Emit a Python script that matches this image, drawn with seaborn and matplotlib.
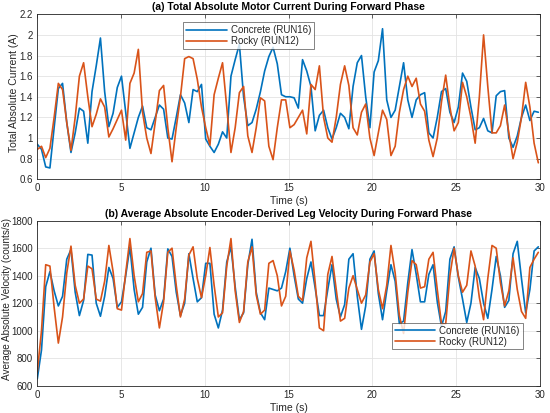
import numpy as np
import pandas as pd
import matplotlib
matplotlib.use("Agg")
import matplotlib.pyplot as plt
import seaborn as sns
from matplotlib.ticker import FixedLocator, FixedFormatter

# ---------------- data ----------------
n_samples = 120
time_s = np.linspace(0, 29.9, n_samples)

series_names = ["Concrete (RUN16)", "Rocky (RUN12)"]
series_colors = ["#0072BD", "#D95319"]

current_concrete = [
    0.94, 0.89, 0.72, 0.71, 1.10, 1.48, 1.53, 1.15, 0.86, 1.05,
    1.29, 1.26, 0.95, 1.45, 1.70, 1.97, 1.45, 1.11, 1.24, 1.49,
    1.60, 1.25, 0.90, 1.05, 1.20, 1.31, 1.10, 1.08, 1.20, 1.32,
    1.28, 1.00, 0.99, 1.20, 1.42, 1.34, 1.15, 1.47, 1.45, 1.52,
    0.99, 0.92, 0.86, 0.94, 1.06, 1.00, 1.60, 1.76, 1.91, 1.40,
    1.12, 1.15, 1.28, 1.45, 1.65, 1.79, 1.88, 1.72, 1.42, 1.40,
    1.40, 1.39, 1.29, 1.76, 1.65, 1.50, 1.07, 1.22, 1.27, 1.10,
    0.99, 1.10, 1.24, 1.20, 1.09, 1.50, 1.73, 1.80, 1.40, 1.10,
    1.64, 1.75, 2.06, 1.37, 1.20, 1.27, 1.50, 1.73, 1.37, 1.20,
    1.37, 1.42, 1.44, 1.05, 1.00, 1.20, 1.45, 1.48, 1.25, 1.15,
    1.30, 1.63, 1.55, 1.30, 1.08, 1.10, 1.19, 1.07, 1.05, 1.41,
    1.45, 1.46, 1.00, 0.91, 1.02, 1.20, 1.32, 1.17, 1.26, 1.25,
]
current_rocky = [
    0.89, 0.92, 0.81, 0.90, 1.20, 1.53, 1.47, 1.15, 0.88, 1.20,
    1.60, 1.73, 1.40, 1.11, 1.23, 1.38, 1.30, 1.01, 1.09, 1.18,
    1.27, 0.98, 1.53, 1.63, 1.86, 1.25, 1.00, 0.85, 1.15, 1.46,
    1.51, 1.10, 0.77, 1.10, 1.40, 1.77, 1.79, 1.77, 1.57, 1.30,
    1.10, 0.93, 1.42, 1.58, 1.73, 1.30, 0.86, 1.10, 1.44, 1.50,
    1.02, 0.86, 1.10, 1.39, 1.36, 0.92, 0.79, 1.10, 1.37, 1.37,
    1.10, 1.13, 1.20, 1.27, 1.04, 1.52, 1.47, 1.70, 1.20, 1.00,
    0.96, 1.20, 1.52, 1.70, 1.51, 1.10, 1.03, 1.25, 1.33, 1.00,
    0.83, 1.05, 1.27, 1.18, 0.83, 0.92, 1.25, 1.47, 1.60, 1.50,
    1.58, 1.33, 1.26, 0.98, 0.82, 1.00, 1.35, 1.61, 1.30, 1.07,
    1.15, 1.54, 1.40, 1.20, 0.95, 1.40, 2.00, 1.50, 1.05, 1.05,
    1.12, 1.32, 1.05, 0.80, 0.96, 1.20, 1.54, 1.30, 0.95, 0.76,
]

velocity_concrete = [
    650, 860, 1320, 1430, 1290, 1180, 1250, 1520, 1590, 1280,
    1110, 1220, 1555, 1550, 1200, 1105, 1250, 1460, 1380, 1170,
    1210, 1400, 1610, 1300, 1120, 1170, 1500, 1600, 1260, 1145,
    1230, 1595, 1540, 1280, 1110, 1200, 1560, 1380, 1210, 1240,
    1490, 1490, 1120, 1020, 1150, 1500, 1610, 1320, 1080, 1130,
    1480, 1665, 1280, 1130, 1080, 1310, 1300, 1290, 1310, 1430,
    1600, 1400, 1230, 1200, 1380, 1500, 1310, 1110, 1110, 1300,
    1480, 1230, 1100, 1190, 1520, 1560, 1250, 1010, 1180, 1520,
    1580, 1270, 1080, 1290, 1480, 1360, 1050, 1070, 1350, 1590,
    1410, 1210, 1210, 1410, 1480, 1210, 1030, 1140, 1520, 1610,
    1390, 1230, 1060, 1200, 1460, 1380, 1200, 1090, 1300, 1540,
    1400, 1170, 1220, 1560, 1650, 1380, 1130, 1300, 1580, 1610,
]
velocity_rocky = [
    700, 1000, 1480, 1470, 1170, 910, 1100, 1420, 1615, 1330,
    1200, 1230, 1470, 1450, 1230, 1215, 1360, 1620, 1430, 1160,
    1150, 1420, 1670, 1400, 1210, 1270, 1570, 1580, 1240, 1020,
    1210, 1570, 1600, 1330, 1100, 1230, 1550, 1610, 1380, 1240,
    1400, 1605, 1330, 1100, 1130, 1470, 1670, 1290, 1060, 1140,
    1500, 1610, 1260, 1120, 1150, 1490, 1510, 1400, 1180, 1250,
    1580, 1440, 1250, 1220, 1530, 1650, 1350, 1020, 1000, 1410,
    1540, 1300, 1070, 1090, 1310, 1400, 1300, 1200, 1260, 1500,
    1560, 1300, 1160, 1330, 1620, 1420, 1110, 980, 1280, 1510,
    1480, 1310, 1320, 1520, 1570, 1300, 1050, 1050, 1400, 1600,
    1400, 1280, 1330, 1580, 1470, 1240, 1080, 1380, 1620, 1600,
    1350, 1180, 1290, 1530, 1300, 1140, 1090, 1460, 1520, 1570,
]

x_ticks = [0, 5, 10, 15, 20, 25, 30]
x_tick_labels = ["0", "5", "10", "15", "20", "25", "30"]
cur_ticks = [0.6, 0.8, 1.0, 1.2, 1.4, 1.6, 1.8, 2.0, 2.2]
cur_tick_labels = ["0.6", "0.8", "1", "1.2", "1.4", "1.6", "1.8", "2", "2.2"]
vel_ticks = [600, 800, 1000, 1200, 1400, 1600, 1800]
vel_tick_labels = ["600", "800", "1000", "1200", "1400", "1600", "1800"]

title_a = "(a) Total Absolute Motor Current During Forward Phase"
title_b = "(b) Average Absolute Encoder-Derived Leg Velocity During Forward Phase"
ylabel_a = "Total Absolute Current (A)"
ylabel_b = "Average Absolute Velocity (counts/s)"
xlabel = "Time (s)"

# ---------------- style ----------------
sns.set_theme(style="white")
plt.rcParams["font.family"] = ["Liberation Sans", "DejaVu Sans"]
plt.rcParams["font.size"] = 7

def long_df(a, b):
    return pd.DataFrame({
        "t": np.concatenate([time_s, time_s]),
        "v": np.concatenate([a, b]),
        "s": [series_names[0]] * len(a) + [series_names[1]] * len(b),
    })

fig = plt.figure(figsize=(5.5, 4.13), dpi=100)
ax1 = fig.add_axes([0.0678, 0.5659, 0.914, 0.3995])
ax2 = fig.add_axes([0.0678, 0.0661, 0.914, 0.3995])

pal = dict(zip(series_names, series_colors))
sns.lineplot(data=long_df(current_concrete, current_rocky), x="t", y="v", hue="s",
             palette=pal, linewidth=1.2, ax=ax1, estimator=None, sort=False)
sns.lineplot(data=long_df(velocity_concrete, velocity_rocky), x="t", y="v", hue="s",
             palette=pal, linewidth=1.2, ax=ax2, estimator=None, sort=False)

def style(ax, yticks, ylabels, ylim, title, ylabel, ylab_size, ylab_x):
    ax.set_xlim(0, 30)
    ax.set_ylim(*ylim)
    ax.xaxis.set_major_locator(FixedLocator(x_ticks))
    ax.xaxis.set_major_formatter(FixedFormatter(x_tick_labels))
    ax.yaxis.set_major_locator(FixedLocator(yticks))
    ax.yaxis.set_major_formatter(FixedFormatter(ylabels))
    ax.grid(True, color="#e3e3e3", linewidth=0.6)
    ax.set_axisbelow(True)
    for sp in ax.spines.values():
        sp.set_color("#262626")
        sp.set_linewidth(0.6)
        sp.set_visible(True)
    ax.tick_params(direction="in", length=3, width=0.5, colors="#262626",
                   labelsize=7, top=True, right=True, pad=3,
                   labelcolor="#262626")
    ax.set_title(title, fontsize=7.5, fontweight="bold", color="#000000", pad=3)
    ax.set_xlabel(xlabel, fontsize=7.5, color="#262626", labelpad=2)
    ax.set_ylabel(ylabel, fontsize=ylab_size, color="#262626")
    ax.yaxis.set_label_coords(ylab_x, 0.525)

style(ax1, cur_ticks, cur_tick_labels, (0.6, 2.2), title_a, ylabel_a, 7.5, -0.036)
style(ax2, vel_ticks, vel_tick_labels, (600, 1800), title_b, ylabel_b, 7.2, -0.050)

leg_kw = dict(frameon=True, fancybox=False, fontsize=7, handlelength=4.2,
              borderpad=0.3, labelspacing=0.1, handletextpad=0.4, title=None)
l1 = ax1.legend(loc="upper left", bbox_to_anchor=(0.28, 0.98), **leg_kw)
l2 = ax2.legend(loc="lower right", bbox_to_anchor=(0.975, 0.19), **leg_kw)
for lg in (l1, l2):
    lg.get_frame().set_edgecolor("#262626")
    lg.get_frame().set_linewidth(0.5)
    for ln in lg.get_lines():
        ln.set_linewidth(1.2)

fig.savefig("out.png", dpi=100)
